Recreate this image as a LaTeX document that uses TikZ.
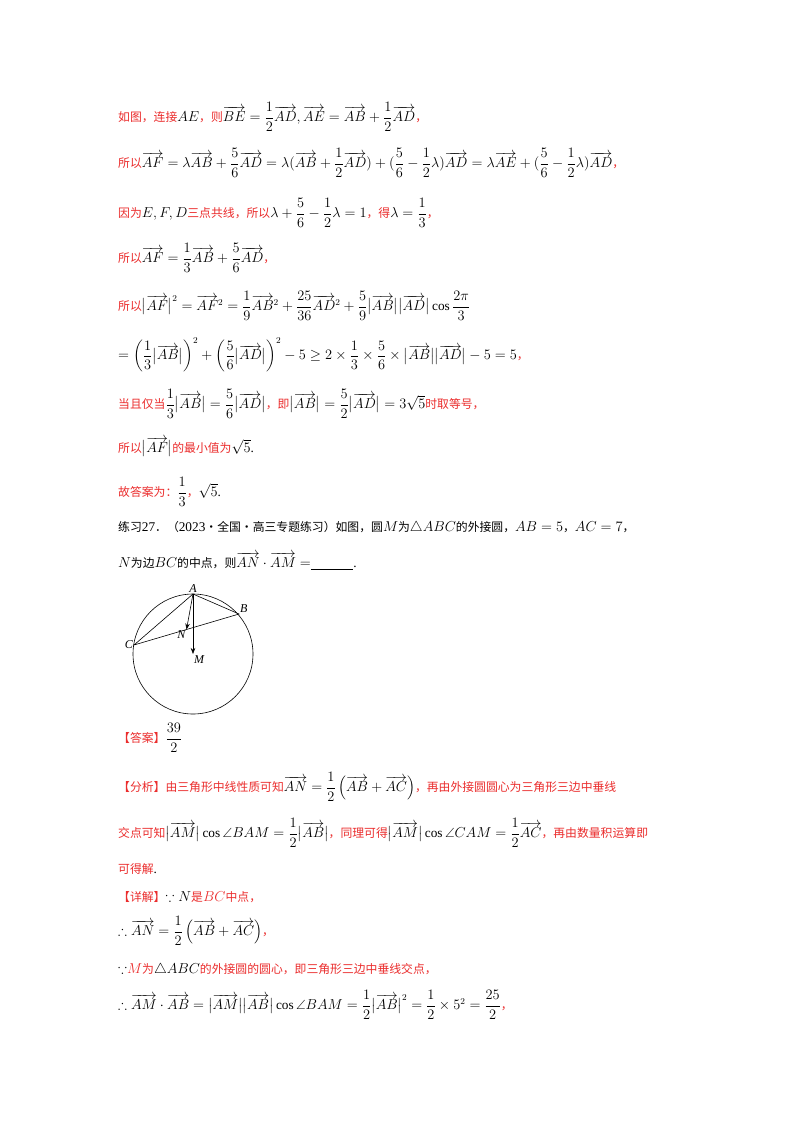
\documentclass[tikz,border=0pt]{standalone}
\usepackage{amsmath,amssymb}
\usepackage{fontspec}
\usetikzlibrary{calc,arrows.meta}
\setmainfont{Liberation Serif}
\newfontfamily\cjk[Scale=0.89]{Noto Sans CJK SC}
\definecolor{myred}{RGB}{235,45,45}
\newcommand{\R}[1]{{\color{myred}\cjk #1}}
\newcommand{\K}[1]{{\cjk #1}}
\newcommand{\V}[1]{\overrightarrow{#1}}
\begin{document}
\begin{tikzpicture}[x=1pt,y=-1pt,
  ln/.style={anchor=west,inner sep=0pt,font=\fontsize{13.3}{16}\selectfont},
  fig/.style={font=\fontsize{12}{14}\selectfont\itshape,inner sep=1pt}]
\useasboundingbox[fill=white] (0,0) rectangle (800,1132);
\node[ln] (l1) at (118,117) {\R{如图，连接}$AE$\R{，则}$\V{BE}=\dfrac12\V{AD},\V{AE}=\V{AB}+\dfrac12\V{AD}$\R{，}};
\node[ln] (l2) at (118,163) {\R{所以}$\V{AF}=\lambda\V{AB}+\dfrac56\V{AD}=\lambda(\V{AB}+\dfrac12\V{AD})+(\dfrac56-\dfrac12\lambda)\V{AD}=\lambda\V{AE}+(\dfrac56-\dfrac12\lambda)\V{AD}$\R{，}};
\node[ln] (l3) at (118,213) {\R{因为}$E,F,D$\R{三点共线，所以}$\lambda+\dfrac56-\dfrac12\lambda=1$\R{，得}$\lambda=\dfrac13$\R{，}};
\node[ln] (l4) at (118,258) {\R{所以}$\V{AF}=\dfrac13\V{AB}+\dfrac56\V{AD}$\R{，}};
\node[ln] (l5) at (118,306) {\R{所以}$\bigl|\V{AF}\bigr|^2=\V{AF}^2=\dfrac19\V{AB}^2+\dfrac{25}{36}\V{AD}^2+\dfrac59\bigl|\V{AB}\bigr|\bigl|\V{AD}\bigr|\cos\dfrac{2\pi}3$};
\node[ln] (l6) at (118,355) {$=\left(\dfrac13\bigl|\V{AB}\bigr|\right)^2+\left(\dfrac56\bigl|\V{AD}\bigr|\right)^2-5\ge2\times\dfrac13\times\dfrac56\times\bigl|\V{AB}\bigr|\bigl|\V{AD}\bigr|-5=5$\R{，}};
\node[ln] (l7) at (118,404) {\R{当且仅当}$\dfrac13\bigl|\V{AB}\bigr|=\dfrac56\bigl|\V{AD}\bigr|$\R{，即}$\bigl|\V{AB}\bigr|=\dfrac52\bigl|\V{AD}\bigr|=3\sqrt5$\R{时取等号，}};
\node[ln] (l8) at (118,447) {\R{所以}$\bigl|\V{AF}\bigr|$\R{的最小值为}$\sqrt5$.};
\node[ln] (l9) at (118,492) {\R{故答案为：}$\dfrac13$\R{，}$\sqrt5$.};
\node[ln] (l10) at (118,528) {\K{练习}27\K{．（}2023\K{·全国·高三专题练习）如图，圆}$M$\K{为}$\triangle ABC$\K{的外接圆，}$AB=5$\K{，}$AC=7$\K{，}};
\node[ln] (l11) at (118,561) {$N$\K{为边}$BC$\K{的中点，则}$\V{AN}\cdot\V{AM}=$\underline{\hspace{3.2em}}.};
% figure
\coordinate (M) at (193,654);
\draw[line width=0.6pt] (M) circle (60);
\coordinate (A) at (193,594);
\coordinate (B) at (239,614);
\coordinate (C) at (134,645);
\coordinate (N) at ($(B)!0.5!(C)$);
\draw[line width=0.6pt] (A)--(B)--(C)--cycle;
\draw[line width=0.6pt,-{Stealth[length=6pt]}] (A)--(N);
\draw[line width=0.6pt,-{Stealth[length=6pt]}] (A)--(M);
\node[fig,above] (tA) at (A) {A};
\node[fig,above right] (tB) at (B) {B};
\node[fig,left] (tC) at (C) {C};
\node[fig,below left] (tN) at (N) {N};
\node[fig,below right] (tM) at (M) {M};
% answer
\node[ln] (a1) at (118,738) {\R{【答案】}$\dfrac{39}{2}$};
\node[ln] (a2) at (118,787) {\R{【分析】由三角形中线性质可知}$\V{AN}=\dfrac12\left(\V{AB}+\V{AC}\right)$\R{，再由外接圆圆心为三角形三边中垂线}};
\node[ln] (a3) at (118,833) {\R{交点可知}$\bigl|\V{AM}\bigr|\cos\angle BAM=\dfrac12\bigl|\V{AB}\bigr|$\R{，同理可得}$\bigl|\V{AM}\bigr|\cos\angle CAM=\dfrac12\V{AC}$\R{，再由数量积运算即}};
\node[ln] (a4) at (118,869) {\R{可得解}.};
\node[ln] (a5) at (118,897) {\R{【详解】}$\because N$\R{是}{\color{myred}$BC$}\R{中点，}};
\node[ln] (a6) at (118,931) {$\therefore\V{AN}=\dfrac12\left(\V{AB}+\V{AC}\right)$\R{，}};
\node[ln] (a7) at (118,970) {$\because${\color{myred}$M$}\R{为}$\triangle ABC$\R{的外接圆的圆心，即三角形三边中垂线交点，}};
\node[ln] (a8) at (118,1005) {$\therefore\V{AM}\cdot\V{AB}=\bigl|\V{AM}\bigr|\bigl|\V{AB}\bigr|\cos\angle BAM=\dfrac12\bigl|\V{AB}\bigr|^2=\dfrac12\times5^2=\dfrac{25}2$\R{，}};
\end{tikzpicture}
\end{document}
